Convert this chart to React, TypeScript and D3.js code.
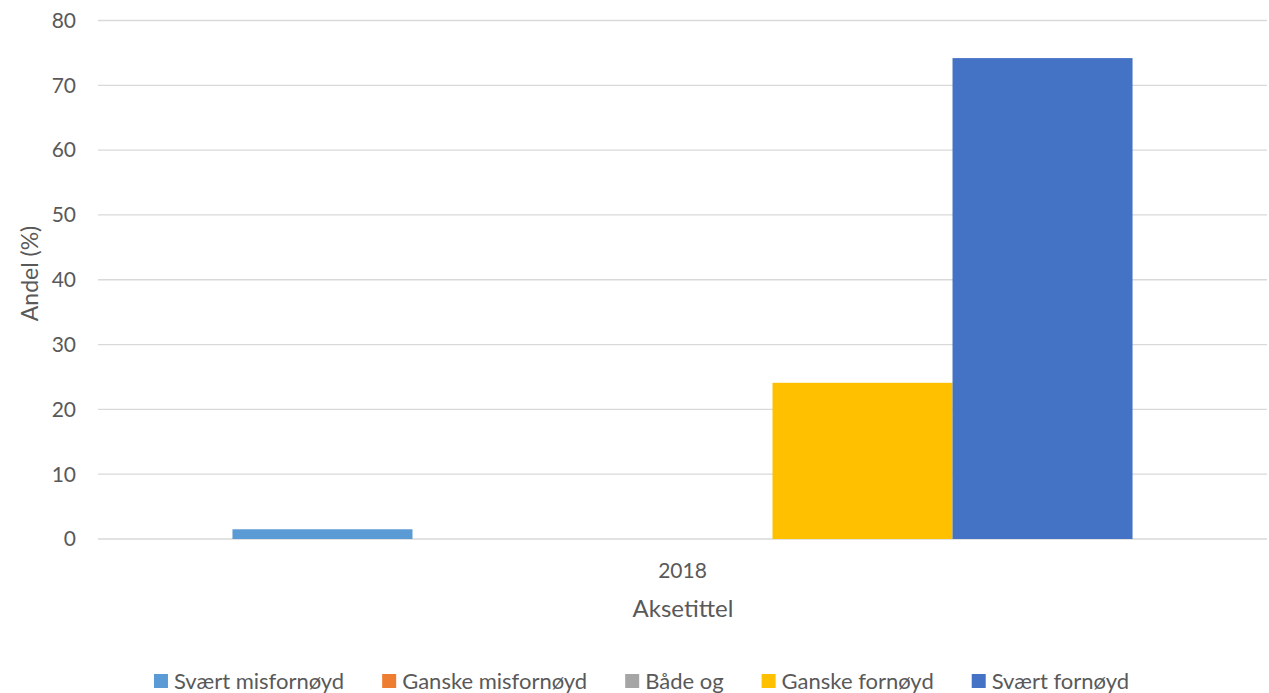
import React, { useEffect, useRef } from "react";
import * as d3 from "d3";

const categories = ["2018"];
const seriesNames = ["Svært misfornøyd", "Ganske misfornøyd", "Både og", "Ganske fornøyd", "Svært fornøyd"];
const seriesValues = [1.5, 0, 0, 24.1, 74.2];
const seriesColors = ["#5B9BD5", "#ED7D31", "#A5A5A5", "#FFC000", "#4472C4"];
const yTicks = [0, 10, 20, 30, 40, 50, 60, 70, 80];

const W = 1269;
const H = 693;
const FONT = "Lato, 'Open Sans', sans-serif";
const FS = 21;
const TXT = "#595959";

export default function App() {
  const ref = useRef<SVGSVGElement>(null);
  useEffect(() => {
    const svg = d3.select(ref.current);
    svg.selectAll("*").remove();
    const left = 98, right = 1267, top = 20.5, bottom = 539;
    const y = d3.scaleLinear().domain([0, 80]).range([bottom, top]);
    const x0 = d3.scaleBand().domain(categories).range([left, right]).paddingOuter(0.1494).paddingInner(0);
    const x1 = d3.scaleBand().domain(seriesNames).range([0, x0.bandwidth()]);

    const g = svg.append("g");
    g.selectAll("line.grid").data(yTicks).join("line")
      .attr("x1", left).attr("x2", right)
      .attr("y1", d => y(d)).attr("y2", d => y(d))
      .attr("stroke", "#d9d9d9").attr("stroke-width", 1.3);

    g.selectAll("text.ytick").data(yTicks).join("text")
      .attr("x", 76).attr("y", d => y(d)).attr("dy", "0.35em")
      .attr("text-anchor", "end").attr("font-family", FONT).attr("font-size", FS)
      .attr("fill", TXT).text(d => String(d));

    categories.forEach(cat => {
      g.selectAll("rect.bar").data(seriesValues).join("rect")
        .attr("x", (_, i) => (x0(cat) as number) + (x1(seriesNames[i]) as number))
        .attr("width", x1.bandwidth())
        .attr("y", d => y(d)).attr("height", d => y(0) - y(d))
        .attr("fill", (_, i) => seriesColors[i]);
      g.append("text").attr("x", (x0(cat) as number) + x0.bandwidth() / 2).attr("y", 571)
        .attr("dy", "0.35em").attr("text-anchor", "middle").attr("font-family", FONT)
        .attr("font-size", FS).attr("fill", TXT).text(cat);
    });

    g.append("text").attr("x", 683).attr("y", 609).attr("dy", "0.35em")
      .attr("text-anchor", "middle").attr("font-family", FONT).attr("font-size", 24)
      .attr("fill", TXT).text("Aksetittel");

    g.append("text").attr("transform", `translate(30,273.5) rotate(-90)`)
      .attr("dy", "0.35em").attr("text-anchor", "middle").attr("font-family", FONT)
      .attr("font-size", 23).attr("fill", TXT).text("Andel (%)");

    // legend
    const lg = svg.append("g");
    const items = lg.selectAll("g.item").data(seriesNames).join("g");
    items.append("rect").attr("width", 14).attr("height", 14).attr("y", -7)
      .attr("fill", (_, i) => seriesColors[i]);
    items.append("text").attr("x", 20).attr("dy", "0.35em").attr("font-family", FONT)
      .attr("font-size", 22).attr("fill", TXT).text(d => d);
    const widths: number[] = [];
    items.each(function () {
      const t = (this as SVGGElement).querySelector("text") as SVGTextElement;
      widths.push(20 + t.getComputedTextLength());
    });
    const gap = 38;
    const total = d3.sum(widths) + gap * (widths.length - 1);
    let cx = 641.5 - total / 2;
    items.attr("transform", (_, i) => {
      const tx = cx;
      cx += widths[i] + gap;
      return `translate(${tx},681)`;
    });
  }, []);
  return (
    <svg ref={ref} width={W} height={H}
      style={{ position: "absolute", left: 0, top: 0, background: "#fff" }} />
  );
}
